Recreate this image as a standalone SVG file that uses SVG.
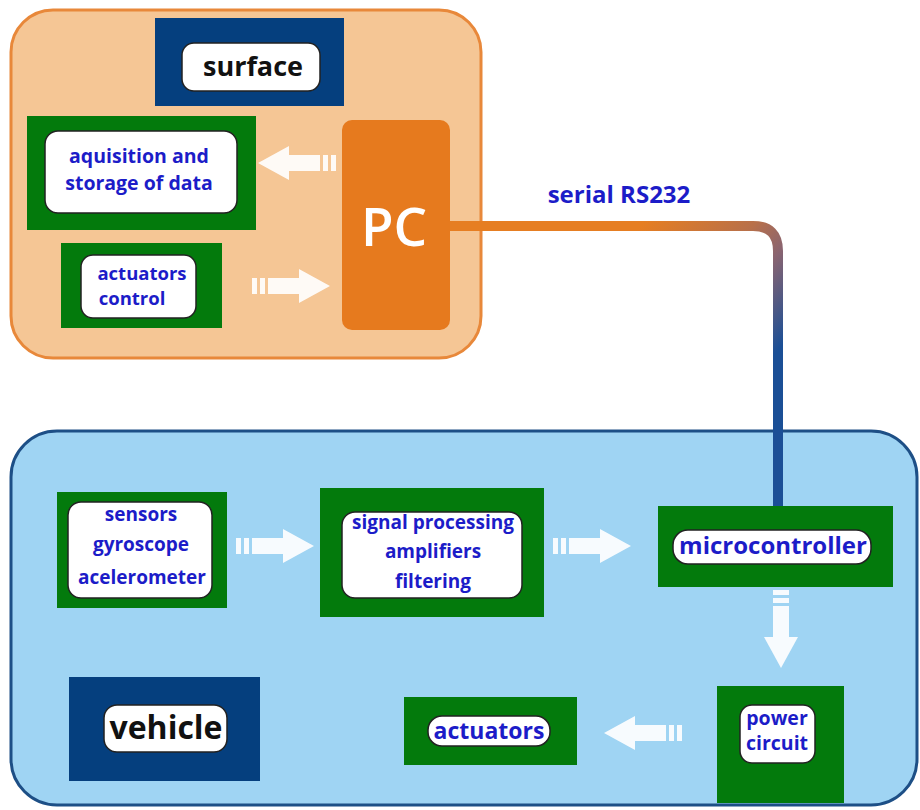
<svg xmlns="http://www.w3.org/2000/svg" width="920" height="810" viewBox="0 0 920 810">
<style>
.grn{fill:#037a0c}
.dkb{fill:#053f7e}
.wht{fill:#ffffff;stroke:#222;stroke-width:1.5}
.t{font-family:"Open Sans","DejaVu Sans",sans-serif;font-weight:bold;fill:#1c1cc8;text-anchor:middle}
.tb{font-family:"Open Sans","DejaVu Sans",sans-serif;font-weight:bold;fill:#111;text-anchor:middle}
.ar{fill:#ffffff;opacity:0.92}
</style>
<defs>
<linearGradient id="cable" gradientUnits="userSpaceOnUse" x1="640" y1="226" x2="778" y2="350">
<stop offset="0" stop-color="#e67e22"/>
<stop offset="0.45" stop-color="#b8704a"/>
<stop offset="0.65" stop-color="#8a6470"/>
<stop offset="1" stop-color="#1b4f96"/>
</linearGradient>
<g id="arr" class="ar">
<rect x="0" y="-8" width="5" height="16"/>
<rect x="8" y="-8" width="5" height="16"/>
<rect x="16" y="-8" width="34" height="16"/>
<polygon points="47,-17 78,0 47,17"/>
</g>
</defs>

<g id="surface-panel">
<rect x="11" y="10" width="470" height="348" rx="42" fill="#f5c695" stroke="#e8883a" stroke-width="3"/>
</g>
<g id="vehicle-panel">
<rect x="11" y="431" width="906" height="374" rx="46" fill="#9fd4f3" stroke="#1d4f86" stroke-width="3"/>
</g>

<g id="connectors">
<path d="M450,226 H753 Q778,226 778,251 V506" fill="none" stroke="url(#cable)" stroke-width="10"/>
<use href="#arr" transform="translate(336,163) scale(-1,1)"/>
<use href="#arr" transform="translate(252,286)"/>
<use href="#arr" transform="translate(236,546)"/>
<use href="#arr" transform="translate(553,546)"/>
<use href="#arr" transform="translate(781,590) rotate(90)"/>
<use href="#arr" transform="translate(682,733) scale(-1,1)"/>
</g>
<text x="619" y="203" class="t" font-size="24">serial RS232</text>

<g id="surface">
<rect x="155" y="18" width="189" height="88" class="dkb"/>
<rect x="182" y="43" width="138" height="48" rx="12" class="wht"/>
<text x="253" y="76" class="tb" font-size="27">surface</text>
</g>

<g id="acquisition">
<rect x="27" y="116" width="229" height="114" class="grn"/>
<rect x="45" y="131" width="192" height="82" rx="13" class="wht"/>
<text x="139" y="163" class="t" font-size="19.5">aquisition and</text>
<text x="139" y="190" class="t" font-size="19.5">storage of data</text>
</g>

<g id="actuators-control">
<rect x="61" y="243" width="161" height="85" class="grn"/>
<rect x="81" y="255" width="115" height="63" rx="12" class="wht"/>
<text x="142" y="280" class="t" font-size="18.5">actuators</text>
<text x="132" y="305" class="t" font-size="18.5">control</text>
</g>

<g id="pc">
<rect x="342" y="120" width="108" height="210" rx="10" fill="#e67a1e"/>
<text x="394" y="246" font-family="Open Sans, DejaVu Sans, sans-serif" font-weight="600" font-size="53" fill="#ffffff" text-anchor="middle">PC</text>
</g>

<g id="sensors">
<rect x="57" y="492" width="170" height="116" class="grn"/>
<rect x="68" y="502" width="144" height="96" rx="13" class="wht"/>
<text x="141" y="521" class="t" font-size="19">sensors</text>
<text x="141" y="551" class="t" font-size="19">gyroscope</text>
<text x="142" y="584" class="t" font-size="19">acelerometer</text>
</g>

<g id="signal-processing">
<rect x="320" y="488" width="224" height="129" class="grn"/>
<rect x="342" y="512" width="180" height="86" rx="13" class="wht"/>
<text x="433" y="529" class="t" font-size="19">signal processing</text>
<text x="433" y="558" class="t" font-size="19">amplifiers</text>
<text x="433" y="588" class="t" font-size="19">filtering</text>
</g>

<g id="microcontroller">
<rect x="658" y="506" width="235" height="81" class="grn"/>
<rect x="673" y="530" width="198" height="34" rx="15" class="wht"/>
<text x="773" y="554" class="t" font-size="24">microcontroller</text>
</g>

<g id="power-circuit">
<rect x="717" y="686" width="127" height="117" class="grn"/>
<rect x="740" y="705" width="75" height="58" rx="12" class="wht"/>
<text x="777" y="725" class="t" font-size="19.5">power</text>
<text x="777" y="750" class="t" font-size="19.5">circuit</text>
</g>

<g id="actuators">
<rect x="404" y="697" width="173" height="68" class="grn"/>
<rect x="428" y="716" width="122" height="30" rx="14" class="wht"/>
<text x="489" y="739" class="t" font-size="23">actuators</text>
</g>

<g id="vehicle">
<rect x="69" y="677" width="191" height="104" class="dkb"/>
<rect x="104" y="705" width="123" height="47" rx="13" class="wht"/>
<text x="166" y="739" class="tb" font-size="32">vehicle</text>
</g>
</svg>
